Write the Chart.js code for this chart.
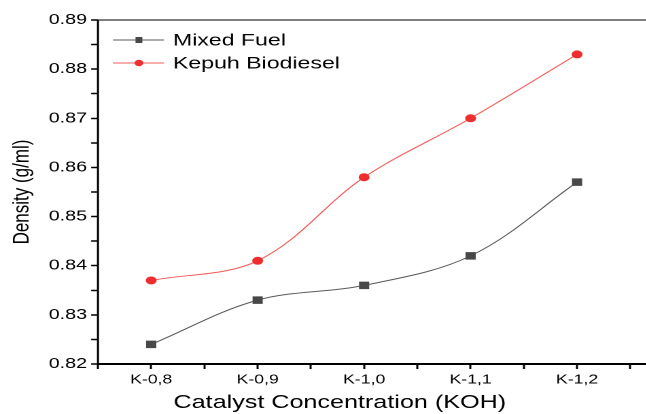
<!DOCTYPE html>
<html>
<head>
<meta charset="utf-8">
<script src="https://cdn.jsdelivr.net/npm/chart.js@4"></script>
<style>
  html, body { margin: 0; padding: 0; background: #fff; overflow: hidden; }
</style>
</head>
<body>
<canvas id="density-chart"></canvas>
<script>
// categories + series
const categories = ['K-0,8', 'K-0,9', 'K-1,0', 'K-1,1', 'K-1,2'];
const mixedFuel = [0.824, 0.833, 0.836, 0.842, 0.857];
const kepuhBiodiesel = [0.837, 0.841, 0.858, 0.870, 0.883];
const yTicks = [0.82, 0.83, 0.84, 0.85, 0.86, 0.87, 0.88, 0.89];

// the original figure is stretched sideways, so draw narrow and stretch with css
const S = 1.36;
const px = v => v / S;          // page x -> canvas x
const LOGICAL_W = 515;

const canvas = document.getElementById('density-chart');
canvas.width = LOGICAL_W;
canvas.height = 414;
canvas.style.width = (LOGICAL_W * S) + 'px';
canvas.style.height = '414px';

const FONT = "'Liberation Sans', Arial, sans-serif";

// legend drawn inside the plot, top left:
const innerLegend = {
    id: 'innerLegend',
    afterDraw(chart) {
        const ctx = chart.ctx;
        const rows = [40, 63];
        chart.data.datasets.forEach((ds, i) => {
            const y = rows[i];
            ctx.save();
            ctx.strokeStyle = ds.borderColor;
            ctx.lineWidth = 1;
            ctx.beginPath();
            ctx.moveTo(px(113), y);
            ctx.lineTo(px(164), y);
            ctx.stroke();
            ctx.fillStyle = ds.pointBackgroundColor;
            if (ds.pointStyle === 'rect') {
                ctx.fillRect(px(139) - 2.5, y - 3, 5, 6);
            } else {
                ctx.beginPath();
                ctx.arc(px(139), y, 3.2, 0, Math.PI * 2);
                ctx.fill();
            }
            ctx.fillStyle = '#000';
            ctx.font = '17px ' + FONT;
            ctx.textBaseline = 'middle';
            ctx.fillText(ds.label, px(173), y + 1);
            ctx.restore();
        });
    }
};

// x axis title, centred where the original puts it (not on the cut-off plot)
const xTitle = {
    id: 'xTitle',
    afterDraw(chart) {
        const ctx = chart.ctx;
        ctx.save();
        ctx.fillStyle = '#000';
        ctx.font = '18.5px ' + FONT;
        ctx.textAlign = 'center';
        ctx.textBaseline = 'alphabetic';
        ctx.fillText('Catalyst Concentration (KOH)', px(340), 408);
        ctx.restore();
    }
};

// frame: left + bottom axis lines and the thin top border
const frame = {
    id: 'frame',
    afterDraw(chart) {
        const a = chart.chartArea;
        const ctx = chart.ctx;
        ctx.save();
        ctx.strokeStyle = '#555';
        ctx.lineWidth = 1.5;
        ctx.beginPath();
        ctx.moveTo(a.left, a.top);
        ctx.lineTo(a.right, a.top);
        ctx.stroke();
        ctx.strokeStyle = '#000';
        ctx.lineWidth = 2;
        ctx.beginPath();
        ctx.moveTo(a.right, a.bottom);
        ctx.lineTo(a.left, a.bottom);
        ctx.stroke();
        ctx.lineWidth = 1.5;
        ctx.beginPath();
        ctx.moveTo(a.left, a.bottom);
        ctx.lineTo(a.left, a.top);
        ctx.stroke();
        ctx.restore();
    }
};

const isMajor = (v, step) => Math.abs(v / step - Math.round(v / step)) < 1e-6;

new Chart(canvas, {
    type: 'line',
    data: {
        datasets: [{
            label: 'Mixed Fuel',
            data: mixedFuel.map((v, i) => ({ x: i + 1, y: v })),
            borderColor: '#5a5a5a',
            borderWidth: 1,
            pointStyle: 'rect',
            pointRadius: 5.3,
            pointBackgroundColor: '#484848',
            pointBorderWidth: 0,
            tension: 0.35
        }, {
            label: 'Kepuh Biodiesel',
            data: kepuhBiodiesel.map((v, i) => ({ x: i + 1, y: v })),
            borderColor: '#f25a5a',
            borderWidth: 1,
            pointStyle: 'circle',
            pointRadius: 4,
            pointBackgroundColor: '#ee2e2e',
            pointBorderWidth: 0,
            tension: 0.35
        }]
    },
    options: {
        responsive: false,
        animation: false,
        devicePixelRatio: 2,
        layout: { padding: { left: 0, top: 20, right: 0, bottom: 0 } },
        plugins: { legend: { display: false }, tooltip: { enabled: false } },
        scales: {
            x: {
                type: 'linear',
                min: 0.5,
                max: 0.5 + 595 / 106.5,
                border: { display: false },
                grid: { drawOnChartArea: false, tickLength: 5, tickColor: '#000', tickWidth: 1.5 },
                afterBuildTicks: s => {
                    const t = [];
                    for (let v = 0.5; v <= s.max; v += 0.5) t.push({ value: v });
                    s.ticks = t;
                },
                ticks: {
                    autoSkip: false,
                    maxRotation: 0,
                    color: '#000',
                    font: { family: FONT, size: 13 },
                    padding: 3,
                    callback: v => (isMajor(v, 1) && v >= 1 && v <= categories.length) ? categories[v - 1] : ''
                },
                title: { display: false },
                afterFit: s => { s.height = 50; }
            },
            y: {
                min: 0.82,
                max: 0.89,
                border: { display: false },
                grid: { drawOnChartArea: false, tickLength: 5, tickColor: '#000', tickWidth: 1.5 },
                afterBuildTicks: s => {
                    const t = [];
                    for (let i = 0; i < yTicks.length; i++) {
                        t.push({ value: yTicks[i] });
                        if (i < yTicks.length - 1) t.push({ value: (yTicks[i] + yTicks[i + 1]) / 2 });
                    }
                    s.ticks = t;
                },
                ticks: {
                    autoSkip: false,
                    color: '#000',
                    font: { family: FONT, size: 14.5 },
                    padding: 3,
                    callback: v => isMajor(v, 0.01) ? v.toFixed(2) : ''
                },
                title: {
                    display: true,
                    text: 'Density (g/ml)',
                    color: '#000',
                    font: { family: FONT, size: 17 },
                    padding: { top: 6, bottom: 0 }
                },
                afterFit: s => { s.width = px(98); }
            }
        }
    },
    plugins: [frame, innerLegend, xTitle]
});
</script>
</body>
</html>
